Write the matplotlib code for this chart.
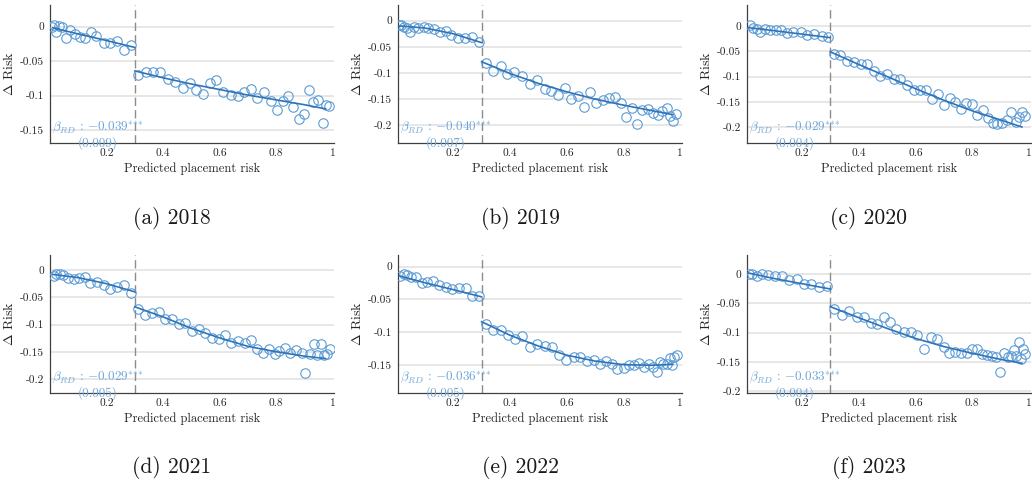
import numpy as np
import matplotlib
matplotlib.use("Agg")
import matplotlib.pyplot as plt
from matplotlib.ticker import FuncFormatter, MultipleLocator

plt.rcParams['font.family'] = ['cmr10', 'DejaVu Serif']
plt.rcParams['mathtext.fontset'] = 'cm'
plt.rcParams['axes.unicode_minus'] = False

# ---- data ----
# 2018
x18_lo = [0.008, 0.013, 0.020, 0.032, 0.044, 0.056, 0.072, 0.087, 0.105, 0.123, 0.144, 0.164, 0.190, 0.214, 0.237, 0.261, 0.286]
y18_lo = [0.000, 0.003, -0.007, 0.001, -0.001, -0.016, -0.005, -0.010, -0.015, -0.017, -0.008, -0.013, -0.023, -0.023, -0.021, -0.033, -0.027]
x18_hi = [0.312, 0.338, 0.365, 0.391, 0.418, 0.444, 0.469, 0.495, 0.518, 0.542, 0.566, 0.589, 0.613, 0.640, 0.664, 0.688,
          0.713, 0.734, 0.758, 0.782, 0.803, 0.825, 0.843, 0.861, 0.881, 0.899, 0.916, 0.932, 0.949, 0.965, 0.977, 0.988]
y18_hi = [-0.0706, -0.0658, -0.0658, -0.0653, -0.0764, -0.0798, -0.0881, -0.0813, -0.0910, -0.0977, -0.0822, -0.0774,
          -0.0943, -0.0992, -0.1006, -0.0948, -0.0905, -0.1040, -0.0939, -0.1080, -0.1200, -0.1080, -0.1006, -0.1170,
          -0.1340, -0.1270, -0.0910, -0.1090, -0.1060, -0.1400, -0.1140, -0.1150]
# 2019
x19_lo = [0.009, 0.017, 0.027, 0.036, 0.048, 0.062, 0.076, 0.095, 0.111, 0.132, 0.153, 0.173, 0.193, 0.218, 0.241, 0.265, 0.291]
y19_lo = [-0.0083, -0.0089, -0.0115, -0.0134, -0.0211, -0.0128, -0.0147, -0.0128, -0.0147, -0.0166, -0.0211, -0.0192,
          -0.0275, -0.0326, -0.0326, -0.0307, -0.0402]
x19_hi = [0.316, 0.341, 0.367, 0.390, 0.416, 0.443, 0.469, 0.496, 0.522, 0.545, 0.570, 0.593, 0.616, 0.640, 0.662, 0.681, 0.704,
          0.727, 0.750, 0.771, 0.791, 0.810, 0.830, 0.847, 0.867, 0.886, 0.906, 0.921, 0.938, 0.953, 0.965, 0.976, 0.986]
y19_hi = [-0.0817, -0.0964, -0.0862, -0.1028, -0.0977, -0.1060, -0.1220, -0.1143, -0.1315, -0.1341, -0.1430, -0.1296,
          -0.1507, -0.1443, -0.1648, -0.1367, -0.1571, -0.1520, -0.1488, -0.1462, -0.1571, -0.1839, -0.1667, -0.1967,
          -0.1711, -0.1699, -0.1762, -0.1807, -0.1724, -0.1679, -0.1826, -0.1922, -0.1788]
# 2020
x20_lo = [0.018, 0.027, 0.041, 0.053, 0.070, 0.088, 0.108, 0.127, 0.147, 0.170, 0.196, 0.219, 0.244, 0.270, 0.293]
y20_lo = [0.002, -0.0033, -0.006, -0.0113, -0.0066, -0.0079, -0.0079, -0.0079, -0.0146, -0.0113, -0.0126, -0.0179,
          -0.0159, -0.0199, -0.0212]
x20_hi = [0.313, 0.336, 0.360, 0.383, 0.407, 0.430, 0.453, 0.477, 0.500, 0.524, 0.547, 0.570, 0.594, 0.617, 0.636, 0.659,
          0.679, 0.699, 0.723, 0.741, 0.761, 0.779, 0.799, 0.818, 0.837, 0.855, 0.873, 0.888, 0.905, 0.922, 0.937, 0.955,
          0.964, 0.976, 0.986]
y20_hi = [-0.0556, -0.0576, -0.0689, -0.0709, -0.0742, -0.0755, -0.0887, -0.0993, -0.0954, -0.1040, -0.1040, -0.1172,
          -0.1258, -0.1272, -0.1258, -0.1450, -0.1351, -0.1570, -0.1417, -0.1503, -0.1636, -0.1523, -0.1550, -0.1755,
          -0.1656, -0.1821, -0.1921, -0.1934, -0.1921, -0.1868, -0.1709, -0.1901, -0.1801, -0.1709, -0.1788]
# 2021
x21_lo = [0.013, 0.023, 0.034, 0.046, 0.063, 0.084, 0.102, 0.123, 0.143, 0.167, 0.190, 0.214, 0.237, 0.261, 0.287]
y21_lo = [-0.011, -0.0074, -0.0080, -0.0092, -0.0153, -0.0172, -0.0153, -0.0123, -0.0233, -0.0215, -0.0276, -0.0356,
          -0.0319, -0.0276, -0.0429]
x21_hi = [0.312, 0.335, 0.361, 0.385, 0.406, 0.430, 0.456, 0.479, 0.503, 0.527, 0.550, 0.574, 0.598, 0.621, 0.642, 0.666,
          0.690, 0.710, 0.733, 0.755, 0.775, 0.795, 0.812, 0.831, 0.851, 0.871, 0.890, 0.901, 0.920, 0.934, 0.946, 0.958,
          0.969, 0.979, 0.990]
y21_hi = [-0.0724, -0.0828, -0.0785, -0.0767, -0.0890, -0.0890, -0.0994, -0.0969, -0.1117, -0.1086, -0.1153, -0.1239,
          -0.1258, -0.1196, -0.1331, -0.1301, -0.1337, -0.1288, -0.1454, -0.1521, -0.1454, -0.1546, -0.1485, -0.1423,
          -0.1515, -0.1460, -0.1521, -0.1883, -0.1546, -0.1350, -0.1564, -0.1362, -0.1564, -0.1546, -0.1448]
# 2022
x22_lo = [0.013, 0.025, 0.036, 0.050, 0.068, 0.088, 0.109, 0.130, 0.150, 0.173, 0.197, 0.220, 0.244, 0.267, 0.291]
y22_lo = [-0.0143, -0.0112, -0.0128, -0.0163, -0.0163, -0.0245, -0.0240, -0.0219, -0.0281, -0.0306, -0.0342, -0.0332,
          -0.0332, -0.0449, -0.0444]
x22_hi = [0.316, 0.341, 0.367, 0.393, 0.417, 0.443, 0.469, 0.496, 0.522, 0.549, 0.574, 0.599, 0.625, 0.648, 0.672, 0.695,
          0.719, 0.740, 0.760, 0.779, 0.801, 0.821, 0.838, 0.857, 0.873, 0.889, 0.904, 0.918, 0.930, 0.941, 0.953, 0.965,
          0.973, 0.979, 0.988]
y22_hi = [-0.0867, -0.0969, -0.0959, -0.1046, -0.1097, -0.1051, -0.1224, -0.1173, -0.1214, -0.1224, -0.1342, -0.1418,
          -0.1378, -0.1378, -0.1444, -0.1418, -0.1480, -0.1444, -0.1480, -0.1556, -0.1541, -0.1495, -0.1505, -0.1464,
          -0.1531, -0.1480, -0.1531, -0.1607, -0.1454, -0.1490, -0.1480, -0.1388, -0.1505, -0.1378, -0.1352]
# 2023
x23_lo = [0.015, 0.026, 0.041, 0.061, 0.082, 0.106, 0.129, 0.156, 0.182, 0.207, 0.234, 0.260, 0.287]
y23_lo = [0.000, -0.0006, -0.0034, 0.000, -0.0017, -0.0034, -0.0040, -0.0103, -0.0091, -0.0177, -0.0171, -0.0228, -0.0205]
x23_hi = [0.314, 0.340, 0.367, 0.393, 0.418, 0.443, 0.466, 0.489, 0.510, 0.533, 0.560, 0.586, 0.607, 0.630, 0.654, 0.677,
          0.699, 0.720, 0.741, 0.761, 0.781, 0.800, 0.816, 0.834, 0.852, 0.869, 0.884, 0.898, 0.911, 0.925, 0.937, 0.946,
          0.955, 0.964, 0.972, 0.978, 0.986]
y23_hi = [-0.0598, -0.0701, -0.0632, -0.0729, -0.0729, -0.0832, -0.0855, -0.0741, -0.0815, -0.0940, -0.0986, -0.0986,
          -0.1043, -0.1288, -0.1083, -0.1117, -0.1242, -0.1345, -0.1328, -0.1345, -0.1345, -0.1282, -0.1288, -0.1373,
          -0.1385, -0.1402, -0.1413, -0.1681, -0.1345, -0.1413, -0.1402, -0.1299, -0.1402, -0.1157, -0.1459, -0.1288, -0.1373]

# fitted lines
fit_x_lo = [0.01, 0.1, 0.2, 0.3]
fit_x_hi = [0.3, 0.4, 0.5, 0.6, 0.7, 0.8, 0.9, 0.975]
fit18_lo = [-0.0015, -0.0105, -0.020, -0.030]
fit18_hi = [-0.064, -0.074, -0.083, -0.091, -0.099, -0.106, -0.113, -0.119]
fit19_lo = [-0.010, -0.014, -0.025, -0.042]
fit19_hi = [-0.0785, -0.101, -0.120, -0.136, -0.150, -0.1615, -0.172, -0.180]
fit20_lo = [-0.003, -0.009, -0.016, -0.023]
fit20_hi = [-0.051, -0.076, -0.100, -0.124, -0.147, -0.168, -0.186, -0.200]
fit21_lo = [-0.008, -0.014, -0.025, -0.040]
fit21_hi = [-0.0675, -0.086, -0.107, -0.1245, -0.140, -0.150, -0.158, -0.1626]
fit22_lo = [-0.014, -0.0245, -0.035, -0.046]
fit22_hi = [-0.084, -0.1046, -0.121, -0.135, -0.144, -0.1495, -0.1505, -0.149]
fit23_lo = [0.002, -0.0075, -0.0165, -0.0256]
fit23_hi = [-0.0558, -0.0746, -0.0929, -0.110, -0.124, -0.1356, -0.1459, -0.1527]

years = ['2018', '2019', '2020', '2021', '2022', '2023']
letters = ['a', 'b', 'c', 'd', 'e', 'f']
betas = ['-0.039', '-0.040', '-0.029', '-0.029', '-0.036', '-0.033']
ses = ['(0.009)', '(0.007)', '(0.004)', '(0.005)', '(0.005)', '(0.004)']
stars = ['***', '***', '***', '***', '***', '***']

panels = [
    (x18_lo, y18_lo, x18_hi, y18_hi, fit18_lo, fit18_hi),
    (x19_lo, y19_lo, x19_hi, y19_hi, fit19_lo, fit19_hi),
    (x20_lo, y20_lo, x20_hi, y20_hi, fit20_lo, fit20_hi),
    (x21_lo, y21_lo, x21_hi, y21_hi, fit21_lo, fit21_hi),
    (x22_lo, y22_lo, x22_hi, y22_hi, fit22_lo, fit22_hi),
    (x23_lo, y23_lo, x23_hi, y23_hi, fit23_lo, fit23_hi),
]

# layout (pixel boxes in the 1032x486 figure)
W, H = 1032, 486
col_left = [50, 398, 747]
ax_w = 284
row_top = [5, 255]
ax_h = 138
xlims = [(0.0, 1.005), (0.005, 1.007), (0.007, 1.007)]
ylims = [(-0.1685, 0.0315), (-0.234, 0.030), (-0.2317, 0.0417),
         (-0.2257, 0.0276), (-0.1928, 0.0179), (-0.2034, 0.0325)]

pt_col = '#5b9bd5'
line_col = '#2f74b8'
txt_col = '#6ea6da'

fig = plt.figure(figsize=(W / 100, H / 100), dpi=100)

for i, (xl, yl, xh, yh, fl, fh) in enumerate(panels):
    r, c = divmod(i, 3)
    ax = fig.add_axes([col_left[c] / W, 1 - (row_top[r] + ax_h) / H, ax_w / W, ax_h / H])

    ax.plot(xl, yl, 'o', mfc='none', mec=pt_col, mew=0.8, ms=6.8, zorder=3)
    ax.plot(xh, yh, 'o', mfc='none', mec=pt_col, mew=0.8, ms=6.8, zorder=3)
    ax.plot(fit_x_lo, fl, color=line_col, lw=1.2, zorder=4)
    ax.plot(fit_x_hi, fh, color=line_col, lw=1.2, zorder=4)
    ax.axvline(0.3, color='#8c8c8c', lw=1.0, ls=(0, (6, 3)), zorder=2)

    ax.set_xlim(*xlims[c])
    ax.set_ylim(*ylims[i])
    ax.xaxis.set_major_locator(MultipleLocator(0.2))
    ax.yaxis.set_major_locator(MultipleLocator(0.05))
    ax.xaxis.set_major_formatter(FuncFormatter(lambda v, p: '' if abs(v) < 1e-9 else '%g' % round(v, 3)))
    ax.yaxis.set_major_formatter(FuncFormatter(lambda v, p: '%g' % round(v, 3)))
    ax.grid(axis='y', color='#e3e3e3', lw=1.2, zorder=0)
    ax.set_axisbelow(True)

    for s in ['top', 'right']:
        ax.spines[s].set_visible(False)
    for s in ['left', 'bottom']:
        ax.spines[s].set_color('#404040')
        ax.spines[s].set_linewidth(0.9)
    ax.tick_params(length=0, labelsize=8.2, colors='#262626', pad=4)

    ax.set_xlabel('Predicted placement risk', fontsize=9, color='#262626', labelpad=3)
    ax.set_ylabel(r'$\Delta$ Risk', fontsize=10, color='#262626', labelpad=3)

    ax.text(0.167, 0.11, r'$\beta_{RD}\,:\,{-0.%s}^{\text{%s}}$' % (betas[i][3:], stars[i]), transform=ax.transAxes,
            ha='center', va='center', fontsize=9.5, color=txt_col, clip_on=False)
    ax.text(0.167, 0.0, ses[i], transform=ax.transAxes,
            ha='center', va='center', fontsize=9.5, color=txt_col, clip_on=False)

    cx = (col_left[c] + ax_w / 2 - 20) / W
    cy = 1 - (218 if r == 0 else 467) / H
    fig.text(cx, cy, '(%s) %s' % (letters[i], years[i]), ha='center', va='center', fontsize=15.5, color='#1a1a1a')

fig.savefig('out.png', dpi=100)
